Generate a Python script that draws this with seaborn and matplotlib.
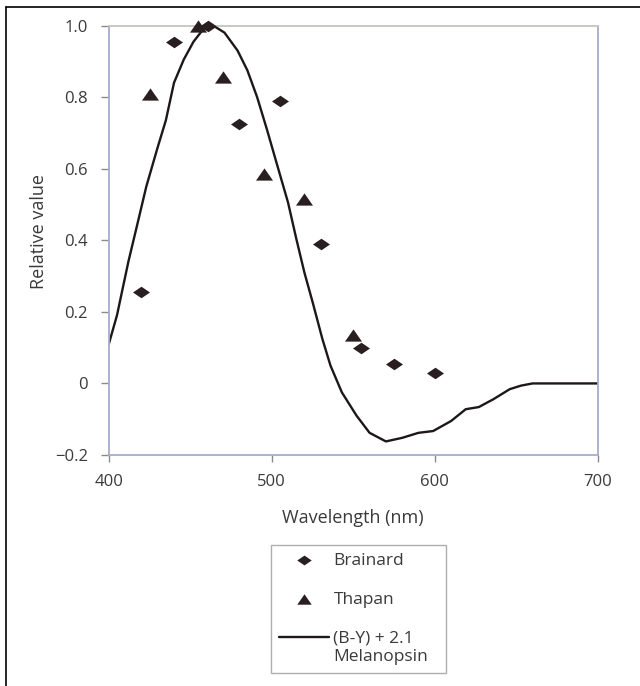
import matplotlib
matplotlib.use('Agg')
import matplotlib.pyplot as plt
import seaborn as sns
from matplotlib.lines import Line2D

# data
wl_curve = [400, 405, 412, 417, 423, 430, 435, 440, 446, 452, 458, 464, 471, 479, 485,
            491, 497, 503, 510, 515, 520, 525, 531, 536, 543, 552, 560, 570, 580, 590,
            599, 610, 619, 627, 636, 646, 653, 660, 700]
val_curve = [0.11, 0.19, 0.34, 0.435, 0.55, 0.66, 0.735, 0.84, 0.905, 0.955, 0.99, 1.0,
             0.98, 0.93, 0.875, 0.80, 0.71, 0.615, 0.505, 0.405, 0.31, 0.228, 0.125, 0.05,
             -0.025, -0.09, -0.138, -0.162, -0.152, -0.138, -0.133, -0.105, -0.072, -0.066,
             -0.044, -0.016, -0.006, 0.0, 0.0]

wl_brainard = [420, 440, 461, 480, 505, 530, 555, 575, 600]
val_brainard = [0.255, 0.955, 1.0, 0.725, 0.79, 0.39, 0.10, 0.055, 0.03]

wl_thapan = [425, 455, 470, 495, 520, 550]
val_thapan = [0.81, 1.0, 0.855, 0.585, 0.515, 0.135]

xticks = [400, 500, 600, 700]
yticks = [-0.2, 0, 0.2, 0.4, 0.6, 0.8, 1.0]
ylabels = ['\u22120.2', '0', '0.2', '0.4', '0.6', '0.8', '1.0']

sns.set_theme(style='white')
plt.rcParams['font.family'] = ['Open Sans', 'DejaVu Sans']

ink = '#2a1f20'
axis_col = '#a7adc9'
txt = '#3a3a3a'

fig = plt.figure(figsize=(6.4, 6.86), dpi=100)
ax = fig.add_axes([0.170, 0.3367, 0.764, 0.6261])

diamond = [(-1, 0), (0, 0.68), (1, 0), (0, -0.68), (-1, 0)]
triangle = [(0, 0.72), (-1, -0.72), (1, -0.72), (0, 0.72)]

sns.lineplot(x=wl_curve, y=val_curve, sort=False, color='#1e1718', lw=1.7, ax=ax,
             label='(B-Y) + 2.1\nMelanopsin')
sns.scatterplot(x=wl_brainard, y=val_brainard, marker=diamond, s=150, color=ink,
                edgecolor=ink, linewidth=0, ax=ax, label='Brainard', clip_on=False, zorder=3)
sns.scatterplot(x=wl_thapan, y=val_thapan, marker=triangle, s=150, color=ink,
                edgecolor=ink, linewidth=0, ax=ax, label='Thapan', clip_on=False, zorder=3)

ax.set_xlim(400, 700)
ax.set_ylim(-0.2, 1.0)
ax.set_xticks(xticks)
ax.set_yticks(yticks)
ax.set_yticklabels(ylabels)

for side in ['left', 'right', 'bottom']:
    ax.spines[side].set_color(axis_col)
    ax.spines[side].set_linewidth(1.3)
ax.spines['top'].set_color('#c4c6bc')
ax.spines['top'].set_linewidth(1.3)

ax.tick_params(axis='y', left=True, direction='out', length=6, width=1,
               color='#8a8a8a', labelsize=12, labelcolor=txt, pad=9)
ax.tick_params(axis='x', bottom=True, direction='out', length=5, width=1,
               color='#8a8a8a', labelsize=12, labelcolor=txt, pad=9)

ax.set_xlabel('Wavelength (nm)', fontsize=13, color=txt, labelpad=13)
ax.set_ylabel('Relative value', fontsize=13, color=txt)
ax.yaxis.set_label_coords(-0.125, 0.52)

# legend below the plot
handles, labels = ax.get_legend_handles_labels()
order = [labels.index('Brainard'), labels.index('Thapan'), labels.index('(B-Y) + 2.1\nMelanopsin')]
ax.get_legend().remove()
leg = ax.legend([handles[i] for i in order], [labels[i] for i in order],
                loc='upper left', bbox_to_anchor=(0.4234, 0.0146, 0.2734, 0.191),
                bbox_transform=fig.transFigure, mode='expand', borderaxespad=0,
                fontsize=12.5, frameon=True, fancybox=False, edgecolor='#9a9a9a',
                handlelength=2.9, handletextpad=0.25, borderpad=0.45,
                labelspacing=1.3, markerscale=0.85)
leg.get_frame().set_linewidth(1.0)
for t in leg.get_texts():
    t.set_color(txt)
    t.set_linespacing(1.25)
# put the line handle level with the first line of its label
line_handle = leg.legend_handles[2]
line_handle.set_ydata([v + 7.5 for v in line_handle.get_ydata()])

# outer frame (top and left edges only)
fig.add_artist(Line2D([0.0089, 1.0], [0.9903, 0.9903], transform=fig.transFigure,
                      color='black', lw=1.2))
fig.add_artist(Line2D([0.0089, 0.0089], [0.0, 0.9903], transform=fig.transFigure,
                      color='black', lw=1.2))

fig.savefig('out.png', dpi=100, facecolor='white')
